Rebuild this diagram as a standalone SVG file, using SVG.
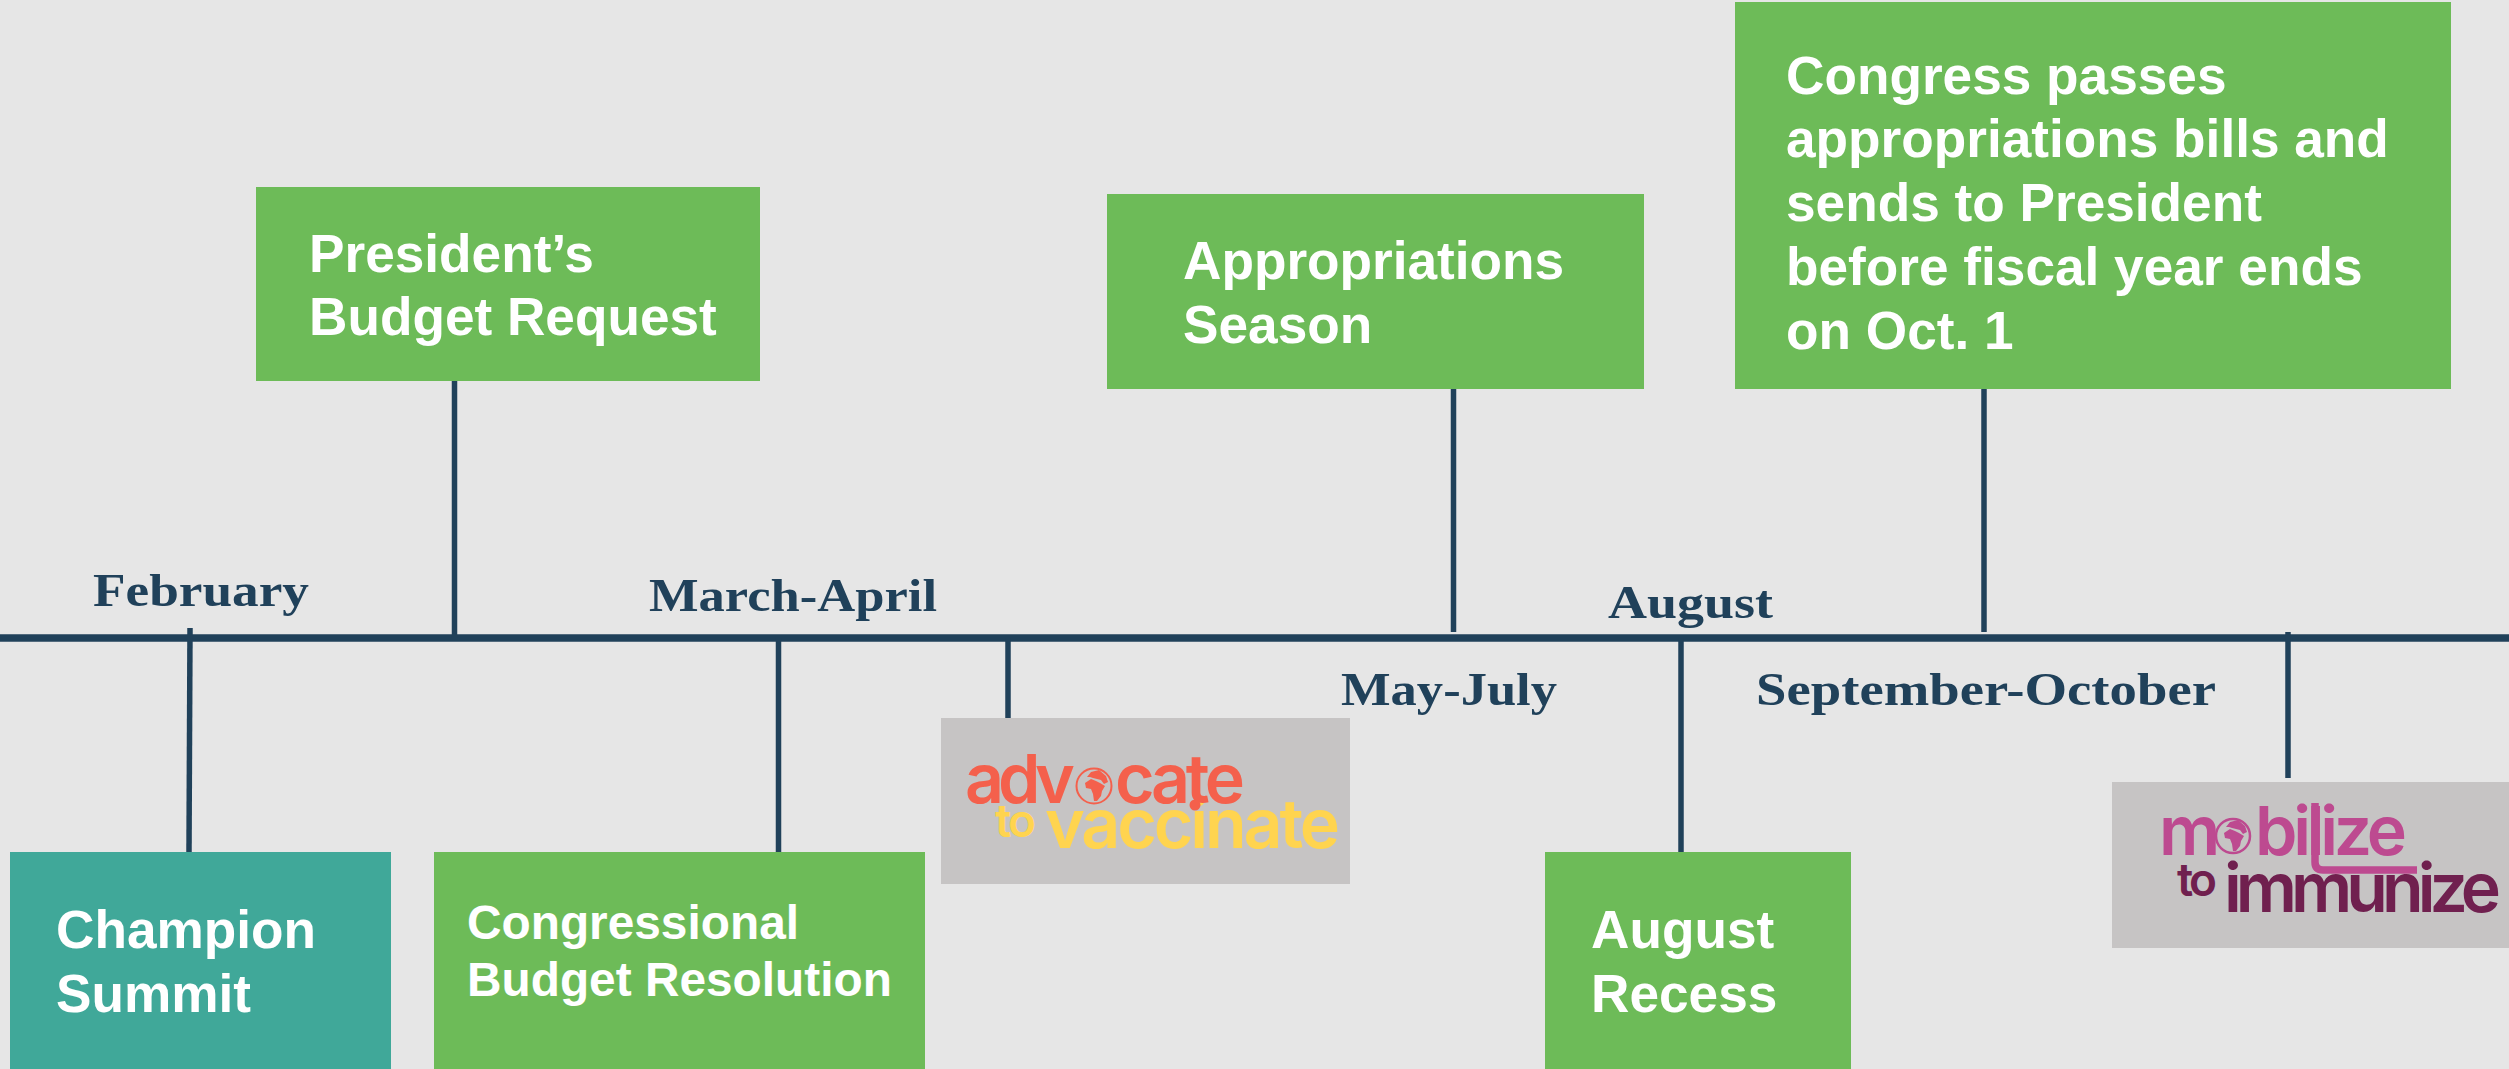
<svg xmlns="http://www.w3.org/2000/svg" width="2509" height="1069" viewBox="0 0 2509 1069">
<style>
.g{fill:#6dbb58}.t{fill:#40a899}.l{fill:#c6c4c4}
.w{font-family:"Liberation Sans",Arial,sans-serif;font-weight:700;fill:#fff}
.m{font-family:"Liberation Serif","Times New Roman",serif;font-weight:700;fill:#20415a;font-size:47px}
.c line{stroke:#20415a;stroke-width:5.5}
.lg{font-family:Inter,"Open Sans",sans-serif;font-weight:600;font-size:68px}
.to{font-size:46px}
</style>
<defs>
<g id="continents"><path d="M-9-3L-3-7L2-5L6-3L11 0L8 5L7 10L3 15L0 15L-1 8L-3 3L-8 2Z"/><path d="M-7-9L-3-14L5-16L12-10L14-4L10-2L7-6L3-7L-1-8L-4-9Z"/></g>
</defs>
<rect width="2509" height="1069" fill="#e6e6e6"/>
<g id="connectors" class="c">
<line x1="0" y1="638" x2="2509" y2="638" style="stroke-width:7.5"/>
<line x1="454.500" y1="381" x2="454.500" y2="638"/>
<line x1="190" y1="628" x2="189" y2="852"/>
<line x1="778.500" y1="638" x2="778.500" y2="852"/>
<line x1="1008" y1="638" x2="1008" y2="718"/>
<line x1="1453.500" y1="389" x2="1453.500" y2="632"/>
<line x1="1681" y1="638" x2="1681" y2="852"/>
<line x1="1984" y1="389" x2="1984" y2="632"/>
<line x1="2288" y1="632" x2="2288" y2="778"/>
</g>
<g id="month-labels">
<text class="m" x="93" y="606" textLength="216" lengthAdjust="spacingAndGlyphs">February</text>
<text class="m" x="649" y="611" textLength="288" lengthAdjust="spacingAndGlyphs">March-April</text>
<text class="m" x="1341" y="705" textLength="216" lengthAdjust="spacingAndGlyphs">May-July</text>
<text class="m" x="1608" y="618" textLength="165" lengthAdjust="spacingAndGlyphs">August</text>
<text class="m" x="1756" y="705" textLength="460" lengthAdjust="spacingAndGlyphs">September-October</text>
</g>
<g id="president"><rect class="g" x="256" y="187" width="504" height="194"/>
<text class="w" font-size="53.200"><tspan x="309" y="272">President’s</tspan><tspan x="309" y="335">Budget Request</tspan></text></g>
<g id="appropriations"><rect class="g" x="1107" y="194" width="537" height="195"/>
<text class="w" font-size="53.200"><tspan x="1183" y="279">Appropriations</tspan><tspan x="1183" y="343">Season</tspan></text></g>
<g id="congress"><rect class="g" x="1735" y="2" width="716" height="387"/>
<text class="w" font-size="53.200"><tspan x="1786" y="94">Congress passes</tspan><tspan x="1786" y="157">appropriations bills and</tspan><tspan x="1786" y="221">sends to President</tspan><tspan x="1786" y="285">before fiscal year ends</tspan><tspan x="1786" y="349">on Oct. 1</tspan></text></g>
<g id="champion"><rect class="t" x="10" y="852" width="381" height="217"/>
<text class="w" font-size="53.200"><tspan x="56" y="948">Champion</tspan><tspan x="56" y="1012">Summit</tspan></text></g>
<g id="congressional"><rect class="g" x="434" y="852" width="491" height="217"/>
<text class="w" font-size="47.800"><tspan x="467" y="939">Congressional</tspan><tspan x="467" y="996">Budget Resolution</tspan></text></g>
<g id="recess"><rect class="g" x="1545" y="852" width="306" height="217"/>
<text class="w" font-size="53.200"><tspan x="1591" y="948">August</tspan><tspan x="1591" y="1012">Recess</tspan></text></g>
<g id="advocate"><rect class="l" x="941" y="718" width="409" height="166"/>
<text class="lg to" x="995" y="837" fill="#ffd44f" textLength="41" lengthAdjust="spacing">to</text>
<text class="lg" x="1045" y="848" fill="#ffd44f" textLength="295" lengthAdjust="spacing">vaccinate</text>
<text class="lg" x="965" y="803" fill="#f4604c" textLength="110" lengthAdjust="spacing">adv</text>
<circle cx="1094" cy="786" r="17.500" fill="#c6c4c4" stroke="#f4604c" stroke-width="2"/><use href="#continents" x="1094" y="786" fill="#f4604c"/>
<text class="lg" x="1115" y="803" fill="#f4604c" textLength="130" lengthAdjust="spacing">cate</text>
<circle cx="1195" cy="805" r="5.500" fill="#f4604c"/></g>
<g id="mobilize"><rect class="l" x="2112" y="782" width="397" height="166"/>
<text class="lg" x="2159" y="855" fill="#bd4a90" textLength="49" lengthAdjust="spacing">m</text>
<circle cx="2233" cy="836" r="17" fill="#c6c4c4" stroke="#bd4a90" stroke-width="2.500"/><use href="#continents" x="2233" y="836" fill="#bd4a90"/>
<text class="lg" x="2255" y="855" fill="#bd4a90" textLength="152" lengthAdjust="spacing">bilize</text>
<path d="M2315 803v59q0 8 8 8h94" fill="none" stroke="#bd4a90" stroke-width="7.500"/>
<text class="lg to" x="2177" y="896" fill="#70204f" textLength="40" lengthAdjust="spacing">to</text>
<text class="lg" x="2224" y="912" fill="#70204f" textLength="277" lengthAdjust="spacing">immunize</text></g>
</svg>
